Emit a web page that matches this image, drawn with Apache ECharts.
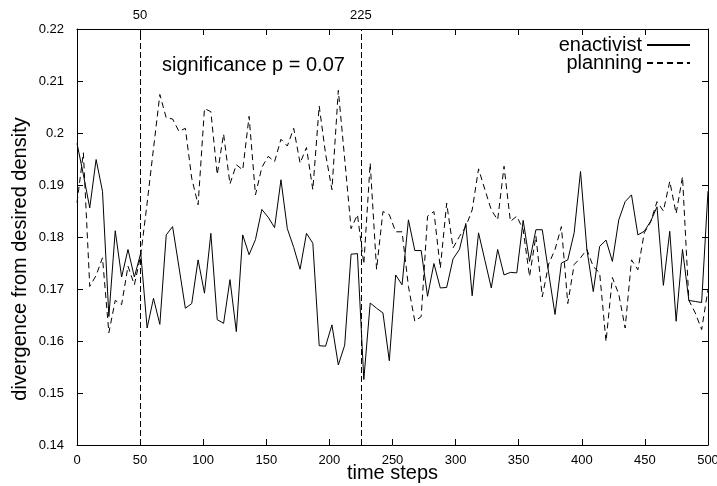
<!DOCTYPE html>
<html>
<head>
<meta charset="utf-8">
<script src="https://cdn.jsdelivr.net/npm/echarts@6/dist/echarts.min.js"></script>
<style>
  html, body { margin: 0; padding: 0; background: #fff; }
  #chart { width: 717px; height: 486px; }
</style>
</head>
<body>
<div id="chart"></div>
<script>
// Data (100 evenly spaced samples over 0..500 time steps)
const enactivist = [
  0.1980, 0.1920, 0.1856, 0.1949, 0.1888, 0.1647, 0.1812, 0.1723, 0.1776, 0.1723,
  0.1769, 0.1625, 0.1682, 0.1632, 0.1804, 0.1820, 0.1742, 0.1663, 0.1672, 0.1756,
  0.1692, 0.1807, 0.1641, 0.1634, 0.1718, 0.1618, 0.1804, 0.1766, 0.1795, 0.1853,
  0.1838, 0.1818, 0.1910, 0.1816, 0.1780, 0.1738, 0.1807, 0.1788, 0.1591, 0.1590,
  0.1631, 0.1554, 0.1592, 0.1767, 0.1768, 0.1526, 0.1673, 0.1663, 0.1654, 0.1562,
  0.1727, 0.1708, 0.1833, 0.1774, 0.1774, 0.1686, 0.1749, 0.1702, 0.1703, 0.1758,
  0.1776, 0.1826, 0.1687, 0.1808, 0.1755, 0.1702, 0.1776, 0.1727, 0.1732, 0.1731,
  0.1832, 0.1753, 0.1814, 0.1814, 0.1731, 0.1651, 0.1750, 0.1756, 0.1808, 0.1926,
  0.1776, 0.1695, 0.1782, 0.1794, 0.1753, 0.1833, 0.1868, 0.1881, 0.1804, 0.1811,
  0.1830, 0.1858, 0.1707, 0.1811, 0.1638, 0.1776, 0.1678, 0.1676, 0.1674, 0.1888
];
const planning = [
  0.1866, 0.1962, 0.1705, 0.1726, 0.1760, 0.1616, 0.1678, 0.1670, 0.1744, 0.1708,
  0.1765, 0.1865, 0.1970, 0.2074, 0.2029, 0.2027, 0.2003, 0.2009, 0.1913, 0.1862,
  0.2047, 0.2041, 0.1920, 0.1998, 0.1902, 0.1939, 0.1929, 0.2032, 0.1881, 0.1934,
  0.1955, 0.1945, 0.1988, 0.1975, 0.2009, 0.1942, 0.1972, 0.1891, 0.2052, 0.1960,
  0.1891, 0.2082, 0.1950, 0.1816, 0.1843, 0.1748, 0.1942, 0.1738, 0.1849, 0.1843,
  0.1810, 0.1810, 0.1705, 0.1638, 0.1647, 0.1840, 0.1849, 0.1740, 0.1865, 0.1779,
  0.1801, 0.1820, 0.1852, 0.1931, 0.1891, 0.1852, 0.1833, 0.1936, 0.1830, 0.1840,
  0.1814, 0.1724, 0.1802, 0.1685, 0.1748, 0.1776, 0.1820, 0.1672, 0.1747, 0.1760,
  0.1776, 0.1743, 0.1731, 0.1599, 0.1722, 0.1690, 0.1625, 0.1756, 0.1737, 0.1808,
  0.1829, 0.1868, 0.1850, 0.1907, 0.1845, 0.1916, 0.1678, 0.1654, 0.1622, 0.1699
];
const seriesNames = ['enactivist', 'planning'];
const markerSteps = [50, 225];
const annotation = 'significance p = 0.07';
const xTitle = 'time steps';
const yTitle = 'divergence from desired density';
const timeRange = [0, 500];
const valueRange = [0.14, 0.22];

// sample index -> time step (samples evenly spread over the time range)
const sampleTime = i => timeRange[0] + i * (timeRange[1] - timeRange[0]) / (enactivist.length - 1);
const toPairs = arr => arr.map((v, i) => [sampleTime(i), v]);

const FONT = '"Liberation Sans", Arial, Helvetica, sans-serif';
const chart = echarts.init(document.getElementById('chart'), null, { renderer: 'canvas' });

const baseX = {
  type: 'value', min: timeRange[0], max: timeRange[1], interval: 50,
  axisLine: { show: true, onZero: false, lineStyle: { color: '#000', width: 1 } },
  axisTick: { show: true, inside: true, length: 6, lineStyle: { color: '#000' } },
  splitLine: { show: false }
};
const baseY = {
  type: 'value', min: valueRange[0], max: valueRange[1], interval: 0.01,
  axisLine: { show: true, onZero: false, lineStyle: { color: '#000', width: 1 } },
  axisTick: { show: true, inside: true, length: 6, lineStyle: { color: '#000' } },
  splitLine: { show: false }
};
const legendBase = {
  right: 26, padding: 0, align: 'right', orient: 'horizontal',
  itemWidth: 43, itemHeight: 14, selectedMode: false,
  itemStyle: { opacity: 0 },
  textStyle: { fontSize: 20, color: '#000', fontFamily: FONT }
};

chart.setOption({
  animation: false,
  backgroundColor: '#fff',
  textStyle: { fontFamily: FONT },
  grid: { left: 77, right: 9, top: 29, bottom: 41, containLabel: false, outerBoundsMode: 'none' },
  xAxis: [
    Object.assign({}, baseX, {
      position: 'bottom',
      name: xTitle, nameLocation: 'middle', nameGap: 18, nameMoveOverlap: false,
      nameTextStyle: { fontSize: 20, color: '#000', fontFamily: FONT },
      axisLabel: { show: true, fontSize: 13, color: '#000', margin: 9, fontFamily: FONT }
    }),
    Object.assign({}, baseX, { position: 'top', axisLabel: { show: false } })
  ],
  yAxis: [
    Object.assign({}, baseY, {
      position: 'left',
      axisLabel: { show: true, fontSize: 13, color: '#000', margin: 13, fontFamily: FONT }
    }),
    Object.assign({}, baseY, { position: 'right', axisLabel: { show: false } })
  ],
  legend: [
    Object.assign({}, legendBase, { data: [seriesNames[0]], top: 35 }),
    Object.assign({}, legendBase, { data: [seriesNames[1]], top: 53 })
  ],
  graphic: [
    {
      type: 'text', left: 162, top: 55, silent: true,
      style: { text: annotation, fontSize: 20, fill: '#000', fontFamily: FONT }
    },
    {
      type: 'text', x: 20, y: 259, rotation: Math.PI / 2, silent: true,
      style: { text: yTitle, fontSize: 20, fill: '#000', fontFamily: FONT, align: 'center', verticalAlign: 'middle' }
    }
  ],
  series: [
    {
      name: seriesNames[0], type: 'line', data: toPairs(enactivist),
      xAxisIndex: 0, yAxisIndex: 0,
      symbol: 'none', showSymbol: false,
      lineStyle: { color: '#000', width: 1, type: 'solid' },
      itemStyle: { color: '#000' },
      markLine: {
        silent: true, symbol: 'none', animation: false,
        lineStyle: { color: '#000', width: 1, type: [6, 3] },
        label: { show: true, position: 'end', distance: 7, fontSize: 13, color: '#000', fontFamily: FONT, formatter: p => String(p.value) },
        emphasis: { disabled: true },
        data: markerSteps.map(s => ({ xAxis: s }))
      }
    },
    {
      name: seriesNames[1], type: 'line', data: toPairs(planning),
      xAxisIndex: 0, yAxisIndex: 0,
      symbol: 'none', showSymbol: false,
      lineStyle: { color: '#000', width: 1, type: [6, 4] },
      itemStyle: { color: '#000' }
    }
  ]
});
</script>
</body>
</html>
